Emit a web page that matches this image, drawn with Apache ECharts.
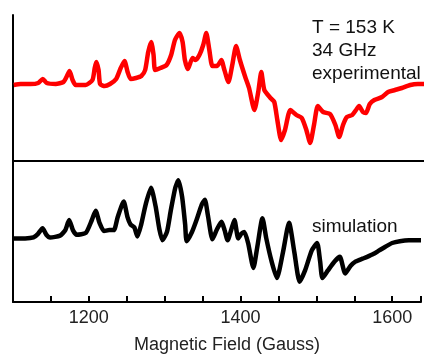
<!DOCTYPE html>
<html>
<head>
<meta charset="utf-8">
<script src="https://cdn.jsdelivr.net/npm/echarts@6/dist/echarts.min.js"></script>
<style>html,body{margin:0;padding:0;background:#fff}#c{width:424px;height:355px}</style>
</head>
<body>
<div id="c"></div>
<script>
// Experimental (top, red) trace: magnetic field (G) and signal (arb. units)
const expField = [1101,1110,1123,1133,1139,1144,1156,1166,1170,1174,1178,1182,1195,1204,1207,1209,1212,1214,1220,1227,1235,1241,1246,1250,1254,1261,1268,1273,1277,1281,1284,1286,1293,1301,1307,1312,1318,1322,1325,1329,1335,1339,1344,1349,1353,1357,1361,1367,1373,1376,1382,1387,1392,1397,1404,1409,1416,1421,1425,1429,1437,1442,1446,1451,1456,1463,1471,1478,1484,1489,1494,1499,1506,1515,1522,1527,1532,1537,1544,1549,1553,1558,1562,1567,1573,1583,1591,1600,1609,1620,1630,1638];
const expSignal = [-1,0,0,1,5,1,0,2,7,13,4,-1,-1,4,16,22,14,0,-2,0,5,16,23,12,5,6,8,14,32,42,29,14,16,19,29,44,51,42,24,15,26,24,29,39,51,34,18,18,24,16,2,19,38,24,7,-4,-26,-8,12,-6,-14,-18,-36,-56,-46,-26,-31,-34,-46,-59,-41,-22,-28,-30,-41,-53,-41,-33,-31,-26,-22,-28,-29,-20,-16,-13,-8,-6,-4,-1,0,0];
// Simulation (bottom, black) trace
const simField = [1101,1116,1127,1133,1139,1144,1149,1162,1169,1174,1179,1184,1196,1204,1209,1214,1220,1227,1233,1238,1246,1251,1255,1260,1264,1269,1275,1282,1288,1293,1297,1303,1308,1314,1318,1323,1327,1329,1336,1342,1349,1353,1357,1363,1369,1375,1379,1383,1388,1392,1397,1401,1405,1410,1417,1422,1429,1434,1441,1448,1456,1464,1471,1478,1485,1494,1501,1505,1508,1515,1524,1531,1538,1545,1552,1561,1567,1575,1583,1591,1600,1610,1622,1638];
const simSignal = [0,0,1,5,11,4,1,3,9,20,9,4,6,20,30,17,8,9,9,23,40,23,15,12,2,15,37,55,35,10,-2,7,30,55,63,45,15,-3,7,20,37,42,25,-1,10,18,9,-2,10,20,0,5,7,-5,-32,-10,22,0,-25,-43,-15,17,-15,-47,-35,-13,-5,-25,-43,-35,-25,-20,-38,-30,-25,-22,-20,-17,-13,-9,-5,-3,-2,-2];
const tickLabels = [1200, 1400, 1600];

const FONT = 'Liberation Sans, Arial, sans-serif';
const zip = (a, b) => a.map((v, i) => [v, b[i]]);

const chart = echarts.init(document.getElementById('c'), null, {renderer: 'canvas'});
const xMin = 1100, xMax = 1638;
chart.setOption({
  animation: false,
  backgroundColor: '#fff',
  grid: [
    {left: 13, right: 0, top: 15, height: 146},
    {left: 13, right: 0, top: 161, height: 153}
  ],
  xAxis: [
    {gridIndex: 0, type: 'value', min: xMin, max: xMax, interval: 50,
     axisLine: {show: true, onZero: false, lineStyle: {color: '#000', width: 2}},
     axisTick: {show: false}, axisLabel: {show: false}, splitLine: {show: false}},
    {gridIndex: 1, type: 'value', min: xMin, max: xMax, interval: 50,
     name: 'Magnetic Field (Gauss)', nameLocation: 'middle', nameGap: 34,
     nameTextStyle: {fontFamily: FONT, fontSize: 18, color: '#222', padding: [0, 0, 0, 20]},
     axisLine: {show: true, onZero: false, lineStyle: {color: '#000', width: 2}},
     axisTick: {show: true, inside: true, length: 6, lineStyle: {color: '#000', width: 2}},
     axisLabel: {show: true, fontFamily: FONT, fontSize: 18, color: '#222', margin: 7,
       formatter: v => tickLabels.includes(v) ? String(v) : ''},
     splitLine: {show: false}}
  ],
  yAxis: [
    {gridIndex: 0, type: 'value', min: -77, max: 69,
     axisLine: {show: true, onZero: false, lineStyle: {color: '#000', width: 2}},
     axisTick: {show: false}, axisLabel: {show: false}, splitLine: {show: false}},
    {gridIndex: 1, type: 'value', min: -69, max: 84,
     axisLine: {show: true, onZero: false, lineStyle: {color: '#000', width: 2}},
     axisTick: {show: false}, axisLabel: {show: false}, splitLine: {show: false}}
  ],
  series: [
    {type: 'line', xAxisIndex: 0, yAxisIndex: 0, data: zip(expField, expSignal),
     showSymbol: false, smooth: 0.2, lineStyle: {color: '#ff0000', width: 4.5}},
    {type: 'line', xAxisIndex: 1, yAxisIndex: 1, data: zip(simField, simSignal),
     showSymbol: false, smooth: 0.2, lineStyle: {color: '#000', width: 4.5}}
  ],
  graphic: [
    {type: 'text', left: 312, top: 16,
     style: {text: 'T = 153 K\n34 GHz\nexperimental', fontFamily: FONT, fontSize: 19, lineHeight: 23, fill: '#111'}},
    {type: 'text', left: 312, top: 217,
     style: {text: 'simulation', fontFamily: FONT, fontSize: 19, fill: '#111'}}
  ]
});
</script>
</body>
</html>
